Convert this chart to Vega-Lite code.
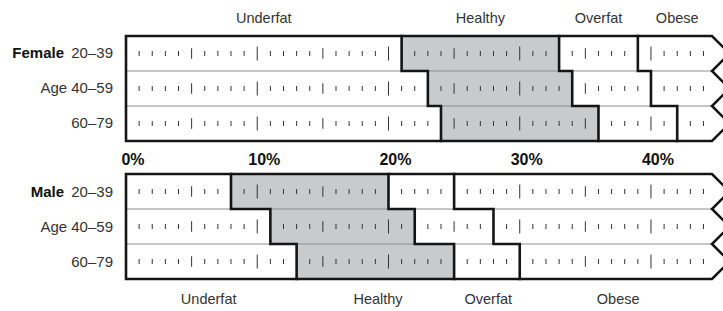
{
  "$schema": "https://vega.github.io/schema/vega-lite/v6.json",
  "width": 586,
  "height": 243,
  "autosize": {"type": "none"},
  "padding": {"left": 126, "top": 36, "right": 11, "bottom": 32},
  "background": "white",
  "config": {"view": {"stroke": null}, "font": "Liberation Sans", "text": {"font": "Liberation Sans"}},
  "datasets": {
    "seg": [
      {"row": "F1", "cat": "Underfat", "start": 0, "end": 21, "top": 0, "bottom": 1},
      {"row": "F1", "cat": "Healthy", "start": 21, "end": 33, "top": 0, "bottom": 1},
      {"row": "F1", "cat": "Overfat", "start": 33, "end": 39, "top": 0, "bottom": 1},
      {"row": "F1", "cat": "Obese", "start": 39, "end": 44.65, "top": 0, "bottom": 1},
      {"row": "F2", "cat": "Underfat", "start": 0, "end": 23, "top": 1, "bottom": 2},
      {"row": "F2", "cat": "Healthy", "start": 23, "end": 34, "top": 1, "bottom": 2},
      {"row": "F2", "cat": "Overfat", "start": 34, "end": 40, "top": 1, "bottom": 2},
      {"row": "F2", "cat": "Obese", "start": 40, "end": 44.65, "top": 1, "bottom": 2},
      {"row": "F3", "cat": "Underfat", "start": 0, "end": 24, "top": 2, "bottom": 3},
      {"row": "F3", "cat": "Healthy", "start": 24, "end": 36, "top": 2, "bottom": 3},
      {"row": "F3", "cat": "Overfat", "start": 36, "end": 42, "top": 2, "bottom": 3},
      {"row": "F3", "cat": "Obese", "start": 42, "end": 44.65, "top": 2, "bottom": 3},
      {"row": "M1", "cat": "Underfat", "start": 0, "end": 8, "top": 3.943, "bottom": 4.943},
      {"row": "M1", "cat": "Healthy", "start": 8, "end": 20, "top": 3.943, "bottom": 4.943},
      {"row": "M1", "cat": "Overfat", "start": 20, "end": 25, "top": 3.943, "bottom": 4.943},
      {"row": "M1", "cat": "Obese", "start": 25, "end": 44.65, "top": 3.943, "bottom": 4.943},
      {"row": "M2", "cat": "Underfat", "start": 0, "end": 11, "top": 4.943, "bottom": 5.943},
      {"row": "M2", "cat": "Healthy", "start": 11, "end": 22, "top": 4.943, "bottom": 5.943},
      {"row": "M2", "cat": "Overfat", "start": 22, "end": 28, "top": 4.943, "bottom": 5.943},
      {"row": "M2", "cat": "Obese", "start": 28, "end": 44.65, "top": 4.943, "bottom": 5.943},
      {"row": "M3", "cat": "Underfat", "start": 0, "end": 13, "top": 5.943, "bottom": 6.943},
      {"row": "M3", "cat": "Healthy", "start": 13, "end": 25, "top": 5.943, "bottom": 6.943},
      {"row": "M3", "cat": "Overfat", "start": 25, "end": 30, "top": 5.943, "bottom": 6.943},
      {"row": "M3", "cat": "Obese", "start": 30, "end": 44.65, "top": 5.943, "bottom": 6.943}
    ],
    "sep": [
      {"x0": 0, "x1": 44.65, "y": 1},
      {"x0": 0, "x1": 44.65, "y": 2},
      {"x0": 0, "x1": 44.65, "y": 4.943},
      {"x0": 0, "x1": 44.65, "y": 5.943}
    ],
    "ticks": [
      {"pct": 1, "kind": "minor", "rc": [0.5, 1.5, 2.5, 4.443, 5.443, 6.443]},
      {"pct": 2, "kind": "minor", "rc": [0.5, 1.5, 2.5, 4.443, 5.443, 6.443]},
      {"pct": 3, "kind": "minor", "rc": [0.5, 1.5, 2.5, 4.443, 5.443, 6.443]},
      {"pct": 4, "kind": "minor", "rc": [0.5, 1.5, 2.5, 4.443, 5.443, 6.443]},
      {"pct": 5, "kind": "mid", "rc": [0.5, 1.5, 2.5, 4.443, 5.443, 6.443]},
      {"pct": 6, "kind": "minor", "rc": [0.5, 1.5, 2.5, 4.443, 5.443, 6.443]},
      {"pct": 7, "kind": "minor", "rc": [0.5, 1.5, 2.5, 4.443, 5.443, 6.443]},
      {"pct": 8, "kind": "minor", "rc": [0.5, 1.5, 2.5, 4.443, 5.443, 6.443]},
      {"pct": 9, "kind": "minor", "rc": [0.5, 1.5, 2.5, 4.443, 5.443, 6.443]},
      {"pct": 10, "kind": "major", "rc": [0.5, 1.5, 2.5, 4.443, 5.443, 6.443]},
      {"pct": 11, "kind": "minor", "rc": [0.5, 1.5, 2.5, 4.443, 5.443, 6.443]},
      {"pct": 12, "kind": "minor", "rc": [0.5, 1.5, 2.5, 4.443, 5.443, 6.443]},
      {"pct": 13, "kind": "minor", "rc": [0.5, 1.5, 2.5, 4.443, 5.443, 6.443]},
      {"pct": 14, "kind": "minor", "rc": [0.5, 1.5, 2.5, 4.443, 5.443, 6.443]},
      {"pct": 15, "kind": "mid", "rc": [0.5, 1.5, 2.5, 4.443, 5.443, 6.443]},
      {"pct": 16, "kind": "minor", "rc": [0.5, 1.5, 2.5, 4.443, 5.443, 6.443]},
      {"pct": 17, "kind": "minor", "rc": [0.5, 1.5, 2.5, 4.443, 5.443, 6.443]},
      {"pct": 18, "kind": "minor", "rc": [0.5, 1.5, 2.5, 4.443, 5.443, 6.443]},
      {"pct": 19, "kind": "minor", "rc": [0.5, 1.5, 2.5, 4.443, 5.443, 6.443]},
      {"pct": 20, "kind": "major", "rc": [0.5, 1.5, 2.5, 4.443, 5.443, 6.443]},
      {"pct": 21, "kind": "minor", "rc": [0.5, 1.5, 2.5, 4.443, 5.443, 6.443]},
      {"pct": 22, "kind": "minor", "rc": [0.5, 1.5, 2.5, 4.443, 5.443, 6.443]},
      {"pct": 23, "kind": "minor", "rc": [0.5, 1.5, 2.5, 4.443, 5.443, 6.443]},
      {"pct": 24, "kind": "minor", "rc": [0.5, 1.5, 2.5, 4.443, 5.443, 6.443]},
      {"pct": 25, "kind": "mid", "rc": [0.5, 1.5, 2.5, 4.443, 5.443, 6.443]},
      {"pct": 26, "kind": "minor", "rc": [0.5, 1.5, 2.5, 4.443, 5.443, 6.443]},
      {"pct": 27, "kind": "minor", "rc": [0.5, 1.5, 2.5, 4.443, 5.443, 6.443]},
      {"pct": 28, "kind": "minor", "rc": [0.5, 1.5, 2.5, 4.443, 5.443, 6.443]},
      {"pct": 29, "kind": "minor", "rc": [0.5, 1.5, 2.5, 4.443, 5.443, 6.443]},
      {"pct": 30, "kind": "major", "rc": [0.5, 1.5, 2.5, 4.443, 5.443, 6.443]},
      {"pct": 31, "kind": "minor", "rc": [0.5, 1.5, 2.5, 4.443, 5.443, 6.443]},
      {"pct": 32, "kind": "minor", "rc": [0.5, 1.5, 2.5, 4.443, 5.443, 6.443]},
      {"pct": 33, "kind": "minor", "rc": [0.5, 1.5, 2.5, 4.443, 5.443, 6.443]},
      {"pct": 34, "kind": "minor", "rc": [0.5, 1.5, 2.5, 4.443, 5.443, 6.443]},
      {"pct": 35, "kind": "mid", "rc": [0.5, 1.5, 2.5, 4.443, 5.443, 6.443]},
      {"pct": 36, "kind": "minor", "rc": [0.5, 1.5, 2.5, 4.443, 5.443, 6.443]},
      {"pct": 37, "kind": "minor", "rc": [0.5, 1.5, 2.5, 4.443, 5.443, 6.443]},
      {"pct": 38, "kind": "minor", "rc": [0.5, 1.5, 2.5, 4.443, 5.443, 6.443]},
      {"pct": 39, "kind": "minor", "rc": [0.5, 1.5, 2.5, 4.443, 5.443, 6.443]},
      {"pct": 40, "kind": "major", "rc": [0.5, 1.5, 2.5, 4.443, 5.443, 6.443]},
      {"pct": 41, "kind": "minor", "rc": [0.5, 1.5, 2.5, 4.443, 5.443, 6.443]},
      {"pct": 42, "kind": "minor", "rc": [0.5, 1.5, 2.5, 4.443, 5.443, 6.443]},
      {"pct": 43, "kind": "minor", "rc": [0.5, 1.5, 2.5, 4.443, 5.443, 6.443]},
      {"pct": 44, "kind": "minor", "rc": [0.5, 1.5, 2.5, 4.443, 5.443, 6.443]}
    ],
    "outline": [
      {"id": "Fbox", "o": 0, "x": 0, "y": 1.5},
      {"id": "Fbox", "o": 1, "x": 0, "y": 0},
      {"id": "Fbox", "o": 2, "x": 44.65, "y": 0},
      {"id": "Fbox", "o": 3, "x": 45.98, "y": 0.5},
      {"id": "Fbox", "o": 4, "x": 44.65, "y": 1},
      {"id": "Fbox", "o": 5, "x": 45.98, "y": 1.5},
      {"id": "Fbox", "o": 6, "x": 44.65, "y": 2},
      {"id": "Fbox", "o": 7, "x": 45.98, "y": 2.5},
      {"id": "Fbox", "o": 8, "x": 44.65, "y": 3},
      {"id": "Fbox", "o": 9, "x": 0, "y": 3},
      {"id": "Fbox", "o": 10, "x": 0, "y": 1.5},
      {"id": "Mbox", "o": 0, "x": 0, "y": 5.443},
      {"id": "Mbox", "o": 1, "x": 0, "y": 3.943},
      {"id": "Mbox", "o": 2, "x": 44.65, "y": 3.943},
      {"id": "Mbox", "o": 3, "x": 45.98, "y": 4.443},
      {"id": "Mbox", "o": 4, "x": 44.65, "y": 4.943},
      {"id": "Mbox", "o": 5, "x": 45.98, "y": 5.443},
      {"id": "Mbox", "o": 6, "x": 44.65, "y": 5.943},
      {"id": "Mbox", "o": 7, "x": 45.98, "y": 6.443},
      {"id": "Mbox", "o": 8, "x": 44.65, "y": 6.943},
      {"id": "Mbox", "o": 9, "x": 0, "y": 6.943},
      {"id": "Mbox", "o": 10, "x": 0, "y": 5.443},
      {"id": "FUH", "o": 0, "x": 21, "y": 0},
      {"id": "FUH", "o": 1, "x": 21, "y": 1},
      {"id": "FUH", "o": 2, "x": 23, "y": 1},
      {"id": "FUH", "o": 3, "x": 23, "y": 2},
      {"id": "FUH", "o": 4, "x": 24, "y": 2},
      {"id": "FUH", "o": 5, "x": 24, "y": 3},
      {"id": "FHO", "o": 0, "x": 33, "y": 0},
      {"id": "FHO", "o": 1, "x": 33, "y": 1},
      {"id": "FHO", "o": 2, "x": 34, "y": 1},
      {"id": "FHO", "o": 3, "x": 34, "y": 2},
      {"id": "FHO", "o": 4, "x": 36, "y": 2},
      {"id": "FHO", "o": 5, "x": 36, "y": 3},
      {"id": "FOO", "o": 0, "x": 39, "y": 0},
      {"id": "FOO", "o": 1, "x": 39, "y": 1},
      {"id": "FOO", "o": 2, "x": 40, "y": 1},
      {"id": "FOO", "o": 3, "x": 40, "y": 2},
      {"id": "FOO", "o": 4, "x": 42, "y": 2},
      {"id": "FOO", "o": 5, "x": 42, "y": 3},
      {"id": "MUH", "o": 0, "x": 8, "y": 3.943},
      {"id": "MUH", "o": 1, "x": 8, "y": 4.943},
      {"id": "MUH", "o": 2, "x": 11, "y": 4.943},
      {"id": "MUH", "o": 3, "x": 11, "y": 5.943},
      {"id": "MUH", "o": 4, "x": 13, "y": 5.943},
      {"id": "MUH", "o": 5, "x": 13, "y": 6.943},
      {"id": "MHO", "o": 0, "x": 20, "y": 3.943},
      {"id": "MHO", "o": 1, "x": 20, "y": 4.943},
      {"id": "MHO", "o": 2, "x": 22, "y": 4.943},
      {"id": "MHO", "o": 3, "x": 22, "y": 5.943},
      {"id": "MHO", "o": 4, "x": 25, "y": 5.943},
      {"id": "MHO", "o": 5, "x": 25, "y": 6.943},
      {"id": "MOO", "o": 0, "x": 25, "y": 3.943},
      {"id": "MOO", "o": 1, "x": 25, "y": 4.943},
      {"id": "MOO", "o": 2, "x": 28, "y": 4.943},
      {"id": "MOO", "o": 3, "x": 28, "y": 5.943},
      {"id": "MOO", "o": 4, "x": 30, "y": 5.943},
      {"id": "MOO", "o": 5, "x": 30, "y": 6.943}
    ],
    "cats": [
      {"label": "Underfat", "x": 10.5, "y": -0.5},
      {"label": "Healthy", "x": 27, "y": -0.5},
      {"label": "Overfat", "x": 36, "y": -0.5},
      {"label": "Obese", "x": 42, "y": -0.5},
      {"label": "Underfat", "x": 6.3, "y": 7.55},
      {"label": "Healthy", "x": 19.2, "y": 7.55},
      {"label": "Overfat", "x": 27.6, "y": 7.55},
      {"label": "Obese", "x": 37.5, "y": 7.55}
    ],
    "ages": [
      {"label": "20–39", "y": 0.5},
      {"label": "Age 40–59", "y": 1.5},
      {"label": "60–79", "y": 2.5},
      {"label": "20–39", "y": 4.443},
      {"label": "Age 40–59", "y": 5.443},
      {"label": "60–79", "y": 6.443}
    ],
    "sexes": [
      {"label": "Female", "y": 0.5},
      {"label": "Male", "y": 4.443}
    ],
    "pcts": [
      {"label": "0%", "v": 0},
      {"label": "10%", "v": 10},
      {"label": "20%", "v": 20},
      {"label": "30%", "v": 30},
      {"label": "40%", "v": 40}
    ]
  },
  "layer": [
    {
      "data": {"name": "seg"},
      "mark": {"type": "rect"},
      "encoding": {
        "x": {"field": "start", "type": "quantitative", "scale": {"domain": [0, 44.65], "nice": false, "zero": false}, "axis": null},
        "x2": {"field": "end"},
        "y": {"field": "top", "type": "quantitative", "scale": {"domain": [0, 6.943], "nice": false, "zero": false, "reverse": true}, "axis": null},
        "y2": {"field": "bottom"},
        "fill": {"field": "cat", "type": "nominal", "scale": {"domain": ["Underfat", "Healthy", "Overfat", "Obese"], "range": ["#ffffff", "#c9cacc", "#ffffff", "#ffffff"]}, "legend": null}
      }
    },
    {
      "data": {"name": "sep"},
      "mark": {"type": "rule", "color": "#8c8c8c", "strokeWidth": 1},
      "encoding": {
        "x": {"field": "x0", "type": "quantitative"},
        "x2": {"field": "x1"},
        "y": {"field": "y", "type": "quantitative"}
      }
    },
    {
      "data": {"name": "ticks"},
      "transform": [{"flatten": ["rc"]}],
      "mark": {"type": "point", "shape": "M0,-1V1", "filled": false, "stroke": "#333333", "strokeWidth": 1, "opacity": 1},
      "encoding": {
        "x": {"field": "pct", "type": "quantitative"},
        "y": {"field": "rc", "type": "quantitative"},
        "size": {"field": "kind", "type": "nominal", "scale": {"domain": ["minor", "mid", "major"], "range": [25, 196, 625]}, "legend": null}
      }
    },
    {
      "data": {"name": "outline"},
      "mark": {"type": "line", "color": "#151515", "strokeWidth": 2.6, "strokeJoin": "miter", "strokeCap": "square"},
      "encoding": {
        "x": {"field": "x", "type": "quantitative"},
        "y": {"field": "y", "type": "quantitative"},
        "detail": {"field": "id", "type": "nominal"},
        "order": {"field": "o", "type": "quantitative"}
      }
    },
    {
      "data": {"name": "cats"},
      "mark": {"type": "text", "fontSize": 14.5, "color": "#333333", "align": "center", "baseline": "middle"},
      "encoding": {
        "x": {"field": "x", "type": "quantitative"},
        "y": {"field": "y", "type": "quantitative"},
        "text": {"field": "label"}
      }
    },
    {
      "data": {"name": "ages"},
      "mark": {"type": "text", "fontSize": 15, "color": "#333333", "align": "right", "baseline": "middle", "dx": -13},
      "encoding": {
        "x": {"datum": 0},
        "y": {"field": "y", "type": "quantitative"},
        "text": {"field": "label"}
      }
    },
    {
      "data": {"name": "sexes"},
      "mark": {"type": "text", "fontSize": 15, "fontWeight": "bold", "color": "#111111", "align": "right", "baseline": "middle", "dx": -62},
      "encoding": {
        "x": {"datum": 0},
        "y": {"field": "y", "type": "quantitative"},
        "text": {"field": "label"}
      }
    },
    {
      "data": {"name": "pcts"},
      "mark": {"type": "text", "fontSize": 16, "fontWeight": "bold", "color": "#111111", "align": "center", "baseline": "middle", "dx": 7},
      "encoding": {
        "x": {"field": "v", "type": "quantitative"},
        "y": {"datum": 3.55},
        "text": {"field": "label"}
      }
    }
  ]
}
